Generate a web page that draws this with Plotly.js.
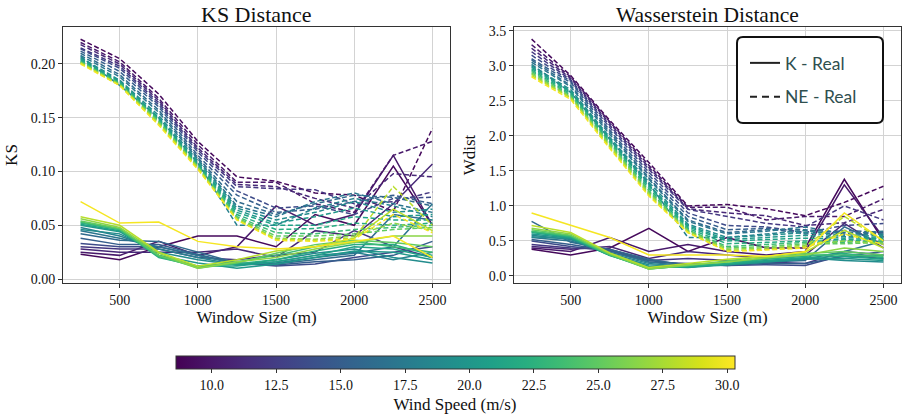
<!DOCTYPE html>
<html>
<head>
<meta charset="utf-8">
<script src="https://cdn.plot.ly/plotly-3.0.1.min.js"></script>
<style>html,body{margin:0;padding:0;background:#fff;}#chart{width:909px;height:416px;}</style>
</head>
<body>
<div id="chart"></div>
<script>
// Window sizes (m)
const windowSizes = [250, 500, 750, 1000, 1250, 1500, 1750, 2000, 2250, 2500];
// Wind speeds (m/s) of each curve
const windSpeeds = [9, 10, 11, 12, 13.5, 15, 16, 17, 18, 19, 20, 21, 22, 23.5, 25, 26.5, 28, 30];
const colorRange = [8.59, 30.28];

// KS distance, NE - Real (dashed)
const ksNE_w09   = [0.223,0.205,0.172,0.128,0.095,0.091,0.080,0.078,0.063,0.140];
const ksNE_w10   = [0.220,0.202,0.168,0.125,0.090,0.090,0.070,0.062,0.115,0.128];
const ksNE_w11   = [0.218,0.200,0.166,0.122,0.088,0.086,0.075,0.066,0.098,0.095];
const ksNE_w12   = [0.215,0.198,0.164,0.120,0.086,0.084,0.083,0.070,0.072,0.081];
const ksNE_w13_5 = [0.214,0.196,0.162,0.118,0.082,0.066,0.068,0.060,0.075,0.076];
const ksNE_w15   = [0.212,0.193,0.160,0.115,0.078,0.062,0.065,0.072,0.078,0.070];
const ksNE_w16   = [0.210,0.190,0.157,0.113,0.072,0.060,0.070,0.078,0.076,0.068];
const ksNE_w17   = [0.208,0.188,0.155,0.112,0.068,0.058,0.072,0.080,0.070,0.062];
const ksNE_w18   = [0.207,0.180,0.150,0.108,0.050,0.050,0.066,0.075,0.068,0.058];
const ksNE_w19   = [0.206,0.185,0.152,0.110,0.066,0.055,0.062,0.072,0.062,0.065];
const ksNE_w20   = [0.205,0.184,0.150,0.108,0.064,0.052,0.058,0.066,0.058,0.060];
const ksNE_w21   = [0.204,0.183,0.149,0.107,0.062,0.050,0.050,0.058,0.055,0.055];
const ksNE_w22   = [0.203,0.182,0.148,0.106,0.060,0.046,0.047,0.052,0.050,0.052];
const ksNE_w23_5 = [0.202,0.182,0.147,0.105,0.058,0.043,0.042,0.046,0.048,0.050];
const ksNE_w25   = [0.202,0.181,0.146,0.104,0.057,0.040,0.040,0.042,0.046,0.048];
const ksNE_w26_5 = [0.201,0.181,0.145,0.104,0.056,0.038,0.037,0.040,0.052,0.045];
const ksNE_w28   = [0.201,0.180,0.144,0.103,0.055,0.037,0.036,0.038,0.086,0.050];
const ksNE_w30   = [0.200,0.180,0.143,0.102,0.055,0.036,0.035,0.037,0.060,0.043];

// KS distance, K - Real (solid)
const ksK_w09   = [0.023,0.018,0.030,0.040,0.040,0.030,0.060,0.050,0.105,0.050];
const ksK_w10   = [0.025,0.022,0.035,0.022,0.030,0.068,0.050,0.060,0.115,0.050];
const ksK_w11   = [0.028,0.025,0.025,0.025,0.028,0.020,0.045,0.040,0.070,0.107];
const ksK_w12   = [0.030,0.028,0.028,0.020,0.018,0.022,0.025,0.045,0.030,0.020];
const ksK_w13_5 = [0.033,0.030,0.030,0.022,0.015,0.012,0.014,0.020,0.025,0.030];
const ksK_w15   = [0.038,0.032,0.032,0.023,0.014,0.013,0.016,0.018,0.022,0.035];
const ksK_w16   = [0.042,0.036,0.035,0.025,0.015,0.014,0.018,0.022,0.060,0.055];
const ksK_w17   = [0.045,0.038,0.030,0.022,0.014,0.015,0.020,0.024,0.030,0.070];
const ksK_w18   = [0.048,0.040,0.028,0.020,0.013,0.016,0.022,0.025,0.018,0.025];
const ksK_w19   = [0.046,0.042,0.025,0.018,0.013,0.018,0.024,0.028,0.020,0.015];
const ksK_w20   = [0.050,0.044,0.022,0.015,0.010,0.014,0.020,0.026,0.025,0.018];
const ksK_w21   = [0.051,0.045,0.022,0.012,0.012,0.016,0.022,0.030,0.028,0.020];
const ksK_w22   = [0.052,0.046,0.020,0.012,0.014,0.018,0.026,0.032,0.032,0.022];
const ksK_w23_5 = [0.053,0.046,0.021,0.011,0.016,0.022,0.030,0.035,0.030,0.025];
const ksK_w25   = [0.054,0.047,0.022,0.010,0.015,0.024,0.032,0.036,0.034,0.030];
const ksK_w26_5 = [0.056,0.048,0.024,0.010,0.016,0.020,0.028,0.034,0.040,0.040];
const ksK_w28   = [0.058,0.050,0.025,0.012,0.018,0.026,0.030,0.038,0.065,0.045];
const ksK_w30   = [0.072,0.052,0.053,0.035,0.030,0.028,0.030,0.035,0.040,0.020];

// Wasserstein distance, NE - Real (dashed)
const wdNE_w09   = [3.38,2.86,2.22,1.62,1.00,1.02,0.96,0.86,1.05,1.28];
const wdNE_w10   = [3.30,2.84,2.20,1.58,0.98,0.98,0.80,0.85,0.85,1.10];
const wdNE_w11   = [3.25,2.82,2.18,1.55,0.96,0.90,0.86,0.72,0.76,0.95];
const wdNE_w12   = [3.20,2.80,2.15,1.52,0.95,0.85,0.75,0.70,1.00,0.80];
const wdNE_w13_5 = [3.15,2.78,2.12,1.48,0.90,0.72,0.70,0.62,0.72,0.75];
const wdNE_w15   = [3.10,2.76,2.08,1.44,0.85,0.66,0.68,0.60,0.65,0.62];
const wdNE_w16   = [3.08,2.72,2.05,1.40,0.80,0.62,0.66,0.66,0.62,0.60];
const wdNE_w17   = [3.05,2.70,2.02,1.38,0.78,0.60,0.64,0.70,0.60,0.64];
const wdNE_w18   = [3.02,2.62,1.95,1.32,0.55,0.55,0.60,0.65,0.58,0.60];
const wdNE_w19   = [3.00,2.66,1.98,1.34,0.74,0.55,0.58,0.62,0.56,0.58];
const wdNE_w20   = [2.98,2.64,1.96,1.30,0.72,0.52,0.55,0.58,0.54,0.56];
const wdNE_w21   = [2.96,2.62,1.94,1.28,0.70,0.50,0.52,0.54,0.52,0.54];
const wdNE_w22   = [2.94,2.60,1.92,1.25,0.68,0.46,0.48,0.50,0.50,0.52];
const wdNE_w23_5 = [2.92,2.58,1.90,1.22,0.66,0.42,0.45,0.48,0.48,0.50];
const wdNE_w25   = [2.90,2.56,1.88,1.20,0.65,0.40,0.42,0.46,0.46,0.48];
const wdNE_w26_5 = [2.88,2.55,1.86,1.18,0.64,0.38,0.40,0.44,0.50,0.46];
const wdNE_w28   = [2.86,2.54,1.84,1.16,0.62,0.36,0.38,0.42,0.85,0.50];
const wdNE_w30   = [2.84,2.52,1.82,1.14,0.62,0.35,0.37,0.40,0.60,0.45];

// Wasserstein distance, K - Real (solid)
const wdK_w09   = [0.38,0.30,0.40,0.68,0.35,0.55,0.40,0.40,1.38,0.50];
const wdK_w10   = [0.40,0.35,0.55,0.35,0.45,0.35,0.30,0.35,1.30,0.55];
const wdK_w11   = [0.42,0.38,0.42,0.25,0.35,0.30,0.25,0.30,0.75,0.40];
const wdK_w12   = [0.45,0.40,0.38,0.22,0.25,0.22,0.20,0.18,0.35,0.30];
const wdK_w13_5 = [0.50,0.42,0.36,0.20,0.18,0.15,0.16,0.15,0.30,0.25];
const wdK_w15   = [0.52,0.45,0.36,0.22,0.16,0.15,0.18,0.18,0.28,0.35];
const wdK_w16   = [0.78,0.48,0.38,0.24,0.15,0.16,0.20,0.22,0.70,0.45];
const wdK_w17   = [0.55,0.50,0.34,0.20,0.14,0.16,0.20,0.24,0.35,0.50];
const wdK_w18   = [0.58,0.52,0.32,0.18,0.13,0.17,0.22,0.25,0.25,0.30];
const wdK_w19   = [0.56,0.53,0.30,0.16,0.13,0.18,0.22,0.26,0.22,0.20];
const wdK_w20   = [0.60,0.54,0.30,0.14,0.12,0.16,0.20,0.24,0.25,0.22];
const wdK_w21   = [0.62,0.55,0.29,0.12,0.13,0.17,0.22,0.26,0.28,0.24];
const wdK_w22   = [0.63,0.56,0.30,0.11,0.14,0.18,0.24,0.28,0.32,0.26];
const wdK_w23_5 = [0.64,0.57,0.30,0.10,0.15,0.20,0.26,0.30,0.30,0.28];
const wdK_w25   = [0.66,0.58,0.31,0.10,0.15,0.22,0.28,0.32,0.35,0.30];
const wdK_w26_5 = [0.68,0.60,0.32,0.10,0.16,0.20,0.26,0.30,0.40,0.35];
const wdK_w28   = [0.72,0.62,0.33,0.12,0.18,0.24,0.28,0.34,0.65,0.40];
const wdK_w30   = [0.90,0.72,0.55,0.30,0.30,0.30,0.28,0.35,0.90,0.50];

const ksNE = [ksNE_w09,ksNE_w10,ksNE_w11,ksNE_w12,ksNE_w13_5,ksNE_w15,ksNE_w16,ksNE_w17,ksNE_w18,ksNE_w19,ksNE_w20,ksNE_w21,ksNE_w22,ksNE_w23_5,ksNE_w25,ksNE_w26_5,ksNE_w28,ksNE_w30];
const ksK  = [ksK_w09,ksK_w10,ksK_w11,ksK_w12,ksK_w13_5,ksK_w15,ksK_w16,ksK_w17,ksK_w18,ksK_w19,ksK_w20,ksK_w21,ksK_w22,ksK_w23_5,ksK_w25,ksK_w26_5,ksK_w28,ksK_w30];
const wdNE = [wdNE_w09,wdNE_w10,wdNE_w11,wdNE_w12,wdNE_w13_5,wdNE_w15,wdNE_w16,wdNE_w17,wdNE_w18,wdNE_w19,wdNE_w20,wdNE_w21,wdNE_w22,wdNE_w23_5,wdNE_w25,wdNE_w26_5,wdNE_w28,wdNE_w30];
const wdK  = [wdK_w09,wdK_w10,wdK_w11,wdK_w12,wdK_w13_5,wdK_w15,wdK_w16,wdK_w17,wdK_w18,wdK_w19,wdK_w20,wdK_w21,wdK_w22,wdK_w23_5,wdK_w25,wdK_w26_5,wdK_w28,wdK_w30];

// Viridis colour table (style)
const viridis = [[0,'#440154'],[0.0627,'#48186a'],[0.1255,'#472d7b'],[0.1882,'#424086'],[0.2510,'#3b528b'],[0.3137,'#33638d'],[0.3765,'#2c728e'],[0.4392,'#26828e'],[0.5020,'#21918c'],[0.5647,'#1fa088'],[0.6275,'#28ae80'],[0.6902,'#3fbc73'],[0.7529,'#5ec962'],[0.8157,'#84d44b'],[0.8784,'#addc30'],[0.9412,'#d8e219'],[1,'#fde725']];
function hex2rgb(h){return [parseInt(h.slice(1,3),16),parseInt(h.slice(3,5),16),parseInt(h.slice(5,7),16)];}
function colorFor(v){
  let t=(v-colorRange[0])/(colorRange[1]-colorRange[0]); t=Math.max(0,Math.min(1,t));
  for(let i=1;i<viridis.length;i++){
    if(t<=viridis[i][0]){
      const a=viridis[i-1],b=viridis[i]; const f=(t-a[0])/(b[0]-a[0]);
      const ca=hex2rgb(a[1]),cb=hex2rgb(b[1]);
      return 'rgb('+ca.map((c,k)=>Math.round(c+(cb[k]-c)*f)).join(',')+')';
    }
  }
  return viridis[viridis.length-1][1];
}

const DASH='5px,2.6px';
const traces=[];
windSpeeds.forEach((w,i)=>{
  const c=colorFor(w);
  traces.push({x:windowSizes,y:ksK[i],type:'scatter',mode:'lines',line:{color:c,width:1.5},showlegend:false,hoverinfo:'skip',xaxis:'x',yaxis:'y'});
  traces.push({x:windowSizes,y:ksNE[i],type:'scatter',mode:'lines',line:{color:c,width:1.5,dash:DASH},showlegend:false,hoverinfo:'skip',xaxis:'x',yaxis:'y'});
  traces.push({x:windowSizes,y:wdK[i],type:'scatter',mode:'lines',line:{color:c,width:1.5},showlegend:false,hoverinfo:'skip',xaxis:'x2',yaxis:'y2'});
  traces.push({x:windowSizes,y:wdNE[i],type:'scatter',mode:'lines',line:{color:c,width:1.5,dash:DASH},showlegend:false,hoverinfo:'skip',xaxis:'x2',yaxis:'y2'});
});
// legend entries
traces.push({x:[null],y:[null],type:'scatter',mode:'lines',name:'K - Real',legendgroup:'k',line:{color:'#222',width:2},xaxis:'x2',yaxis:'y2'});
traces.push({x:[null],y:[null],type:'scatter',mode:'lines',name:'NE - Real',legendgroup:'ne',line:{color:'#222',width:2,dash:'7px,5px'},xaxis:'x2',yaxis:'y2'});
// colorbar carrier
traces.push({x:[1000,1000],y:[-5,-5],type:'scatter',mode:'markers',showlegend:false,hoverinfo:'skip',xaxis:'x',yaxis:'y',
  marker:{size:1,opacity:0,color:colorRange,cmin:colorRange[0],cmax:colorRange[1],colorscale:'Viridis',showscale:true,
    colorbar:{orientation:'h',x:455/909,xanchor:'center',y:(416-356)/416,yanchor:'top',len:559,lenmode:'pixels',thickness:12.5,thicknessmode:'pixels',
      xpad:0,ypad:0,outlinewidth:1,outlinecolor:'#333',ticks:'outside',ticklen:4,tickcolor:'#333',tick0:10,dtick:2.5,tickformat:'.1f',
      tickfont:{family:'Liberation Serif',size:14,color:'#111'},
      title:{text:'Wind Speed (m/s)',side:'bottom',font:{family:'Liberation Serif',size:17,color:'#111'}}}}});

const serif='Liberation Serif';
function axisBase(){return {showline:true,mirror:true,linecolor:'#333',linewidth:1,ticks:'outside',ticklen:4,tickcolor:'#333',
  showgrid:true,gridcolor:'#d3d3d3',gridwidth:1,zeroline:false,tickfont:{family:serif,size:14,color:'#111'}};}

// legend frame (rounded box), pixel geometry
const W=909,H=416;
function px(x){return x/W;} function py(y){return 1-y/H;}
const bx0=737,bx1=883,by0=37,by1=123,r=6;
const boxPath='M '+px(bx0+r)+' '+py(by0)+' L '+px(bx1-r)+' '+py(by0)+' Q '+px(bx1)+' '+py(by0)+' '+px(bx1)+' '+py(by0+r)+
  ' L '+px(bx1)+' '+py(by1-r)+' Q '+px(bx1)+' '+py(by1)+' '+px(bx1-r)+' '+py(by1)+
  ' L '+px(bx0+r)+' '+py(by1)+' Q '+px(bx0)+' '+py(by1)+' '+px(bx0)+' '+py(by1-r)+
  ' L '+px(bx0)+' '+py(by0+r)+' Q '+px(bx0)+' '+py(by0)+' '+px(bx0+r)+' '+py(by0)+' Z';

const layout={
  width:W,height:H,margin:{l:0,r:0,t:0,b:0},paper_bgcolor:'#fff',plot_bgcolor:'#fff',
  xaxis:Object.assign(axisBase(),{domain:[63/W,450/W],range:[137.5,2612.5],tickvals:[500,1000,1500,2000,2500],anchor:'y',
    title:{text:'Window Size (m)',font:{family:serif,size:17,color:'#111'},standoff:4}}),
  yaxis:Object.assign(axisBase(),{domain:[133/H,389/H],range:[-0.0037,0.2344],tickvals:[0,0.05,0.1,0.15,0.2],tickformat:'.2f',anchor:'x',
    title:{text:'KS',font:{family:serif,size:17,color:'#111'},standoff:8}}),
  xaxis2:Object.assign(axisBase(),{domain:[514/W,901/W],range:[137.5,2612.5],tickvals:[500,1000,1500,2000,2500],anchor:'y2',
    title:{text:'Window Size (m)',font:{family:serif,size:17,color:'#111'},standoff:4}}),
  yaxis2:Object.assign(axisBase(),{domain:[133/H,389/H],range:[-0.1,3.553],tickvals:[0,0.5,1,1.5,2,2.5,3,3.5],tickformat:'.1f',anchor:'x2',
    title:{text:'Wdist',font:{family:serif,size:17,color:'#111'},standoff:8}}),
  legend:{x:745/W,y:py(45),xanchor:'left',yanchor:'top',borderwidth:0,bgcolor:'rgba(0,0,0,0)',
    font:{family:'Lato',size:17.5,color:'#2f4f4f'},traceorder:'grouped',tracegroupgap:8,itemwidth:30},
  shapes:[{type:'path',xref:'paper',yref:'paper',path:boxPath,line:{color:'#111',width:2},fillcolor:'#fff',layer:'above'}],
  annotations:[
    {text:'KS Distance',xref:'paper',yref:'paper',x:256/W,y:py(15),xanchor:'center',yanchor:'middle',showarrow:false,font:{family:serif,size:22,color:'#111'}},
    {text:'Wasserstein Distance',xref:'paper',yref:'paper',x:707/W,y:py(15),xanchor:'center',yanchor:'middle',showarrow:false,font:{family:serif,size:21.5,color:'#111'}}
  ]
};
Plotly.newPlot('chart',traces,layout,{staticPlot:true,displayModeBar:false});
</script>
</body>
</html>
